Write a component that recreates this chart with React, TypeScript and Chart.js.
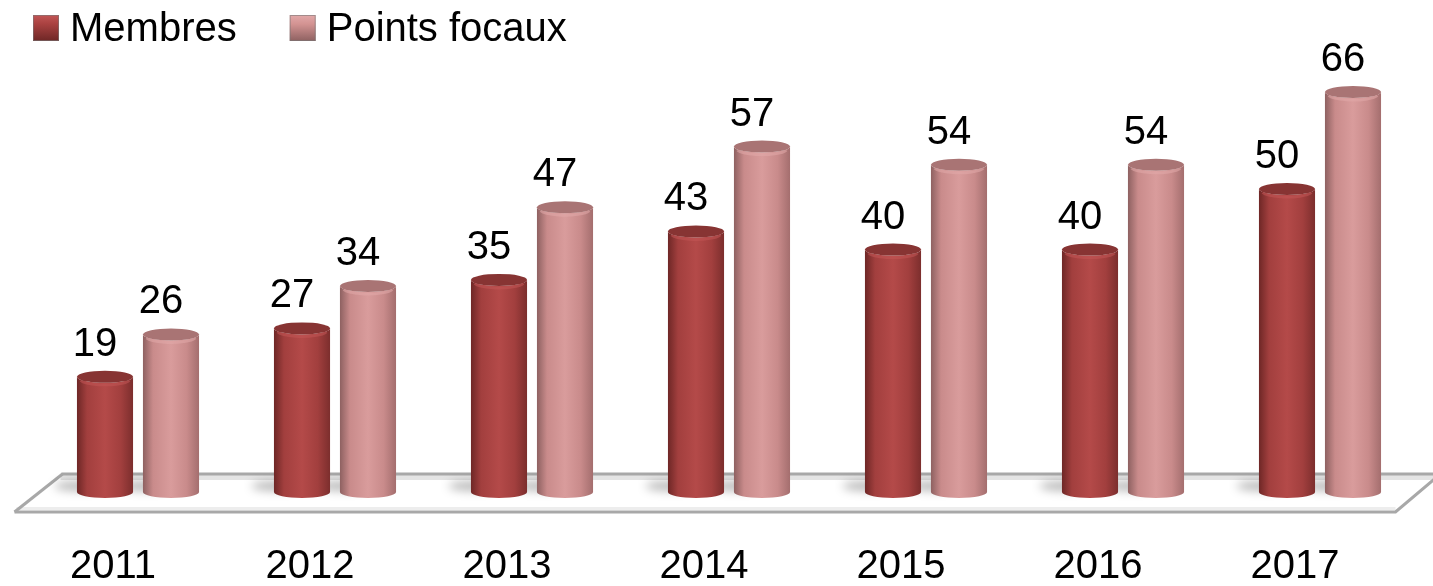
import React, { useEffect, useRef } from "react";
import { Chart, registerables } from "chart.js";

Chart.register(...registerables);

// ---- Data ----
const years: string[] = ["2011", "2012", "2013", "2014", "2015", "2016", "2017"];
const membres: number[] = [19, 27, 35, 43, 40, 40, 50];
const pointsFocaux: number[] = [26, 34, 47, 57, 54, 54, 66];
const seriesNames: string[] = ["Membres", "Points focaux"];
const seriesColors: string[] = ["#A94140", "#D39392"];

// cylinder shading per series: [leftDark, mid, light, rightDark, cap, rim]
const shades: string[][] = [
  ["#6e2726", "#a23f3e", "#b44a49", "#7c2e2d", "#873433", "#c25656"],
  ["#8e6161", "#c98b8b", "#d99c9c", "#a46e6e", "#a97474", "#e2a9a9"],
];

const FONT = "'Liberation Sans', Arial, sans-serif";

const floorPlugin = {
  id: "floor3d",
  beforeDatasetsDraw(chart: any) {
    const ctx = chart.ctx;
    const area = chart.chartArea;
    const zeroY = chart.scales.y.getPixelForValue(0);
    const backY = zeroY - 18;
    const frontY = zeroY + 20;
    const l = area.left - 25;
    const r = chart.width + 10;
    ctx.save();
    ctx.fillStyle = "#ffffff";
    ctx.beginPath();
    ctx.moveTo(l, frontY);
    ctx.lineTo(l + 48, backY);
    ctx.lineTo(r + 40, backY);
    ctx.lineTo(r, frontY);
    ctx.closePath();
    ctx.fill();
    ctx.fillStyle = "#e4e4e4";
    ctx.fillRect(l + 46, backY + 1, r - l, 5);
    ctx.fillStyle = "#ededed";
    ctx.fillRect(l + 2, frontY - 5, area.right - 25 - l, 3);
    ctx.strokeStyle = "#a8a8a8";
    ctx.lineWidth = 3;
    ctx.beginPath();
    ctx.moveTo(l + 47, backY);
    ctx.lineTo(chart.width + 5, backY);
    ctx.stroke();
    ctx.beginPath();
    ctx.moveTo(l, frontY);
    ctx.lineTo(area.right - 23, frontY);
    ctx.lineTo(area.right + 16, frontY - 33);
    ctx.stroke();
    ctx.beginPath();
    ctx.moveTo(l, frontY);
    ctx.lineTo(l + 48, backY);
    ctx.stroke();
    ctx.filter = "blur(5px)";
    ctx.fillStyle = "rgba(0,0,0,0.28)";
    chart.data.datasets.forEach((_: any, di: number) => {
      const meta = chart.getDatasetMeta(di);
      meta.data.forEach((el: any) => {
        const w = el.width;
        ctx.beginPath();
        ctx.ellipse(el.x - w * 0.45, el.base - 6, w * 0.45, 5, 0, 0, Math.PI * 2);
        ctx.fill();
      });
    });
    ctx.filter = "none";
    ctx.restore();
  },
};

const cylinderPlugin = {
  id: "cylinders",
  beforeDatasetDraw(chart: any, args: any) {
    const ctx = chart.ctx;
    const meta = args.meta;
    const sh = shades[args.index] || shades[0];
    ctx.save();
    meta.data.forEach((el: any) => {
      const x = el.x;
      const y = el.y;
      const base = el.base;
      const w = el.width;
      const rx = w / 2;
      const ry = 6;
      const l = x - rx;
      const r = x + rx;
      const g = ctx.createLinearGradient(l, 0, r, 0);
      g.addColorStop(0, sh[0]);
      g.addColorStop(0.18, sh[1]);
      g.addColorStop(0.5, sh[2]);
      g.addColorStop(0.78, sh[1]);
      g.addColorStop(1, sh[3]);
      ctx.fillStyle = g;
      ctx.beginPath();
      ctx.moveTo(l, y);
      ctx.lineTo(l, base);
      ctx.ellipse(x, base, rx, ry, 0, Math.PI, 0, true);
      ctx.lineTo(r, y);
      ctx.ellipse(x, y, rx, ry, 0, 0, Math.PI, false);
      ctx.closePath();
      ctx.fill();
      ctx.strokeStyle = sh[5];
      ctx.globalAlpha = 0.55;
      ctx.lineWidth = 3;
      ctx.beginPath();
      ctx.ellipse(x, y + 2, rx - 3, ry, 0, 0.25, Math.PI - 0.25, false);
      ctx.stroke();
      ctx.globalAlpha = 1;
      ctx.fillStyle = sh[4];
      ctx.beginPath();
      ctx.ellipse(x, y, rx, ry, 0, 0, Math.PI * 2);
      ctx.fill();
    });
    ctx.restore();
    return false;
  },
  afterDatasetsDraw(chart: any) {
    const ctx = chart.ctx;
    ctx.save();
    ctx.fillStyle = "#000000";
    ctx.font = `40px ${FONT}`;
    ctx.textAlign = "center";
    ctx.textBaseline = "alphabetic";
    chart.data.datasets.forEach((ds: any, di: number) => {
      const meta = chart.getDatasetMeta(di);
      meta.data.forEach((el: any, i: number) => {
        ctx.fillText(String(ds.data[i]), el.x - 10, el.y - 21);
      });
    });
    ctx.restore();
  },
};

const legendPlugin = {
  id: "legendTopLeft",
  afterDraw(chart: any) {
    const ctx = chart.ctx;
    ctx.save();
    ctx.font = `40px ${FONT}`;
    ctx.textBaseline = "alphabetic";
    ctx.textAlign = "left";
    let x = 33;
    const boxY = 15;
    const size = 26;
    chart.data.datasets.forEach((ds: any, di: number) => {
      const sh = shades[di] || shades[0];
      const g = ctx.createLinearGradient(0, boxY, 0, boxY + size);
      g.addColorStop(0, sh[5]);
      g.addColorStop(0.35, ds.backgroundColor);
      g.addColorStop(1, sh[0]);
      ctx.fillStyle = g;
      ctx.fillRect(x, boxY, size, size);
      ctx.strokeStyle = "rgba(120,120,120,0.6)";
      ctx.lineWidth = 1;
      ctx.strokeRect(x + 0.5, boxY + 0.5, size - 1, size - 1);
      ctx.fillStyle = "#000000";
      ctx.fillText(ds.label, x + 37, 41);
      x += 37 + ctx.measureText(ds.label).width + 53;
    });
    ctx.restore();
  },
};

export default function App() {
  const canvasRef = useRef<HTMLCanvasElement | null>(null);

  useEffect(() => {
    const canvas = canvasRef.current;
    if (!canvas) return;
    const chart = new Chart(canvas, {
      type: "bar",
      data: {
        labels: years,
        datasets: [
          {
            label: seriesNames[0],
            data: membres,
            backgroundColor: seriesColors[0],
            categoryPercentage: 0.67,
            barPercentage: 0.85,
          },
          {
            label: seriesNames[1],
            data: pointsFocaux,
            backgroundColor: seriesColors[1],
            categoryPercentage: 0.67,
            barPercentage: 0.85,
          },
        ],
      },
      options: {
        responsive: false,
        animation: false,
        layout: {
          padding: { left: 39.5, right: 14.5, top: 67.8, bottom: 4 },
        },
        plugins: {
          legend: { display: false },
          tooltip: { enabled: false },
        },
        scales: {
          x: {
            grid: { display: false, drawTicks: false },
            border: { display: false },
            afterFit(scale: any) {
              scale.height = 90;
            },
            ticks: {
              color: "#000000",
              font: { family: FONT, size: 40, lineHeight: 1 },
              padding: 55,
              labelOffset: -25,
              maxRotation: 0,
              autoSkip: false,
            },
          },
          y: {
            display: false,
            min: 0,
            max: 70,
          },
        },
      },
      plugins: [floorPlugin, cylinderPlugin, legendPlugin],
    });
    return () => chart.destroy();
  }, []);

  return (
    <div
      style={{
        position: "absolute",
        left: 0,
        top: 0,
        width: 1433,
        height: 586,
        background: "#ffffff",
        overflow: "hidden",
      }}
    >
      <canvas ref={canvasRef} width={1433} height={586} style={{ display: "block" }} />
    </div>
  );
}
